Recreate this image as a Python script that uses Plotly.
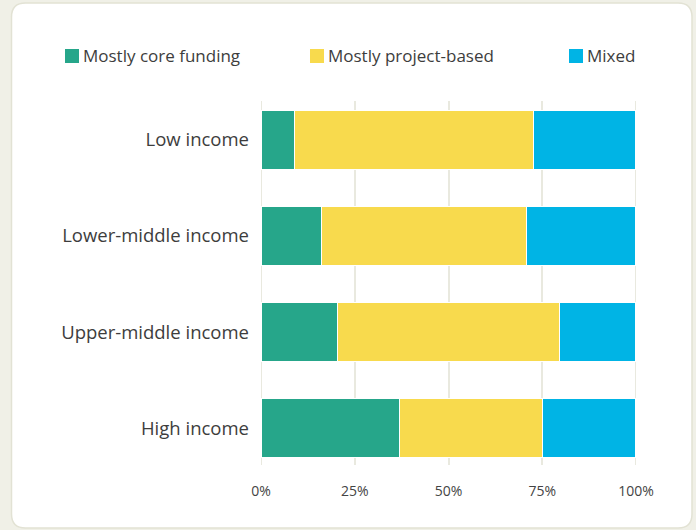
import plotly.graph_objects as go

# Share of organisations by funding type, per income group (percent)
income_groups = ["Low income", "Lower-middle income", "Upper-middle income", "High income"]
core_funding = [9.0, 16.2, 20.3, 37.0]
project_based = [63.7, 54.7, 59.3, 38.0]
mixed = [27.3, 29.1, 20.4, 25.0]

series_names = ["Mostly core funding", "Mostly project-based", "Mixed"]
series_colors = ["#26a68a", "#f8da4d", "#00b4e5"]
x_ticks = [0, 25, 50, 75, 100]
x_tick_text = ["0%", "25%", "50%", "75%", "100%"]

W, H = 696, 530
ML, MR, MT, MB = 261, 60, 101, 65
PW, PH = W - ML - MR, H - MT - MB
FONT = "'Open Sans', Lato, sans-serif"
GRID = "#e9e9df"


def px_x(x):
    return (x - ML) / PW


def px_y(y):
    return (H - MB - y) / PH


fig = go.Figure()
for name, vals, col in zip(series_names, [core_funding, project_based, mixed], series_colors):
    fig.add_trace(go.Bar(
        y=income_groups, x=vals, name=name, orientation="h",
        marker=dict(color=col, line=dict(color="white", width=1.2)),
        width=0.615, showlegend=False,
    ))

# White rounded card on the beige page
x0, x1, y0, y1, r = 11.5, 692, 3, 528, 14
card = (
    f"M {px_x(x0 + r)},{px_y(y0)} L {px_x(x1 - r)},{px_y(y0)} "
    f"Q {px_x(x1)},{px_y(y0)} {px_x(x1)},{px_y(y0 + r)} "
    f"L {px_x(x1)},{px_y(y1 - r)} Q {px_x(x1)},{px_y(y1)} {px_x(x1 - r)},{px_y(y1)} "
    f"L {px_x(x0 + r)},{px_y(y1)} Q {px_x(x0)},{px_y(y1)} {px_x(x0)},{px_y(y1 - r)} "
    f"L {px_x(x0)},{px_y(y0 + r)} Q {px_x(x0)},{px_y(y0)} {px_x(x0 + r)},{px_y(y0)} Z"
)
shapes = [dict(type="path", path=card, xref="paper", yref="paper", layer="below",
               fillcolor="white", line=dict(color="#e2e2d4", width=1.5))]

# Edge gridlines at 0% and 100% (the axis skips lines on the range bounds)
for xv in (x_ticks[0], x_ticks[-1]):
    shapes.append(dict(type="line", xref="x", yref="paper", x0=xv, x1=xv, y0=0, y1=1,
                       layer="below", line=dict(color=GRID, width=2)))

# Legend: coloured squares with labels across the top
annotations = []
legend_x = [65, 310, 569]
for lx, name, col in zip(legend_x, series_names, series_colors):
    shapes.append(dict(type="rect", xref="paper", yref="paper",
                       x0=px_x(lx), x1=px_x(lx + 14), y0=px_y(63), y1=px_y(49),
                       fillcolor=col, line=dict(width=0)))
    annotations.append(dict(text=name, xref="paper", yref="paper",
                            x=px_x(lx + 16), y=px_y(55.5), xanchor="left", yanchor="middle",
                            showarrow=False, font=dict(size=17, color="#3d3d3d")))

fig.update_layout(
    width=W, height=H,
    margin=dict(l=ML, r=MR, t=MT, b=MB, pad=0),
    barmode="stack",
    paper_bgcolor="#f0f0e7",
    plot_bgcolor="rgba(0,0,0,0)",
    font=dict(family=FONT, color="#3d3d3d"),
    shapes=shapes,
    annotations=annotations,
    showlegend=False,
    xaxis=dict(range=[0, 100], tickvals=x_ticks, ticktext=x_tick_text,
               showgrid=True, gridcolor=GRID, gridwidth=2, zeroline=False,
               showline=False, ticks="", ticklabelstandoff=16,
               tickfont=dict(size=14, color="#444444"), fixedrange=True),
    yaxis=dict(categoryorder="array", categoryarray=income_groups,
               range=[3.385, -0.406], showgrid=False, zeroline=False, showline=False,
               ticks="", ticklabelstandoff=11,
               tickfont=dict(size=18.5, color="#3d3d3d"), fixedrange=True),
)

fig.write_html("out.html")
